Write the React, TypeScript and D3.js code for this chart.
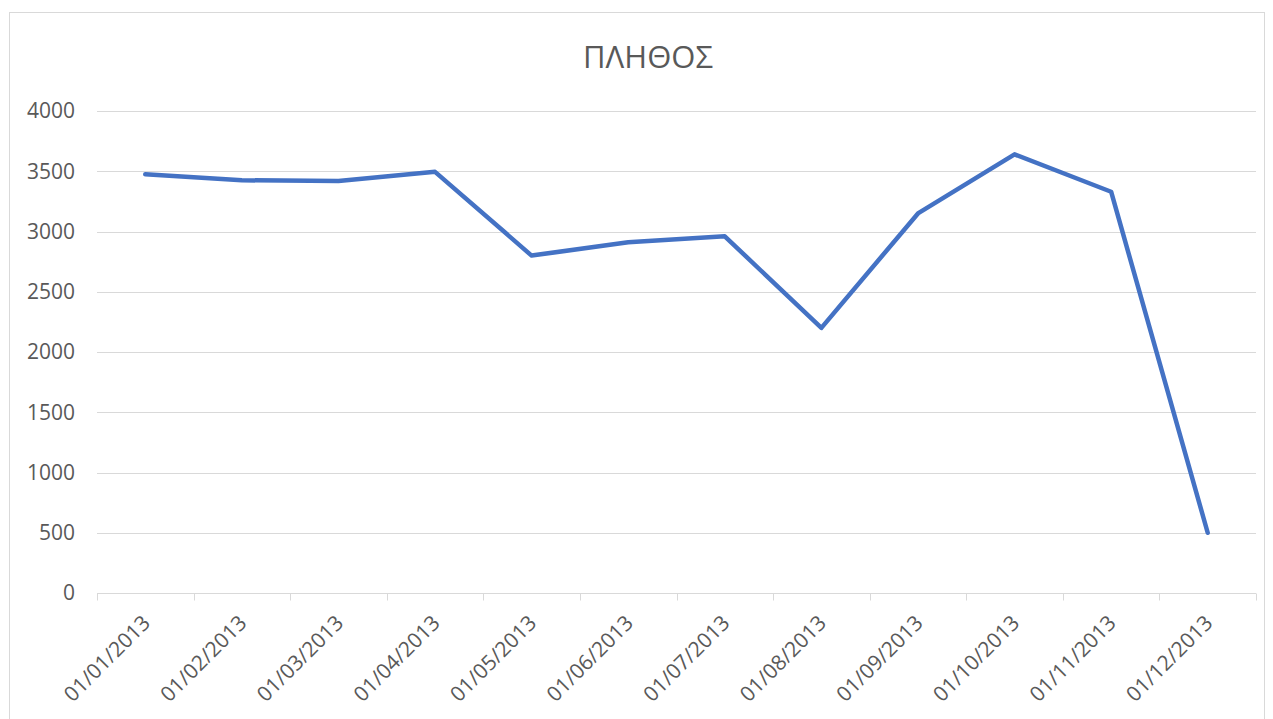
import React, { useEffect, useRef } from 'react';
import * as d3 from 'd3';

const months = ['01/01/2013', '01/02/2013', '01/03/2013', '01/04/2013', '01/05/2013', '01/06/2013',
  '01/07/2013', '01/08/2013', '01/09/2013', '01/10/2013', '01/11/2013', '01/12/2013'];
const counts = [3475, 3425, 3420, 3495, 2800, 2910, 2960, 2200, 3150, 3640, 3330, 500];
const yTicks = [0, 500, 1000, 1500, 2000, 2500, 3000, 3500, 4000];
const title = 'ΠΛΗΘΟΣ';

const W = 1273, H = 719;

export default function App() {
  const ref = useRef<SVGSVGElement>(null);

  useEffect(() => {
    const svg = d3.select(ref.current);
    svg.selectAll('*').remove();

    const margin = { top: 111, right: 17, bottom: 126, left: 97 };
    const font = '"Open Sans", "Noto Sans", sans-serif';
    const textCol = '#595959';

    // chart frame
    svg.append('rect').attr('x', 9.5).attr('y', 12.5).attr('width', W - 18).attr('height', H)
      .attr('fill', 'white').attr('stroke', '#d9d9d9');

    const x = d3.scaleBand().domain(months).range([margin.left, W - margin.right]);
    const y = d3.scaleLinear().domain([0, 4000]).range([H - margin.bottom, margin.top]);

    // gridlines
    svg.append('g').selectAll('line').data(yTicks.filter(d => d > 0)).join('line')
      .attr('x1', margin.left).attr('x2', W - margin.right)
      .attr('y1', d => Math.round(y(d)) + 0.5).attr('y2', d => Math.round(y(d)) + 0.5)
      .attr('stroke', '#d9d9d9').attr('stroke-width', 1);

    // y labels
    svg.append('g').selectAll('text').data(yTicks).join('text')
      .attr('x', 75).attr('y', d => y(d)).attr('dy', '0.35em')
      .attr('text-anchor', 'end').attr('fill', textCol)
      .style('font', `21px ${font}`).text(d => d);

    // x axis
    const xAxis = svg.append('g').attr('transform', `translate(0,${Math.round(y(0)) + 0.5})`)
      .call(d3.axisBottom(x).tickSize(0).tickFormat(() => ''));
    xAxis.select('.domain').attr('stroke', '#d9d9d9').attr('d', `M${margin.left},0H${W - margin.right}`);
    const edges = months.map(m => x(m) as number).concat([W - margin.right]);
    xAxis.append('g').selectAll('line').data(edges).join('line')
      .attr('x1', d => Math.round(d) + 0.5).attr('x2', d => Math.round(d) + 0.5)
      .attr('y1', 0).attr('y2', 7).attr('stroke', '#d9d9d9');

    svg.append('g').selectAll('text').data(months).join('text')
      .attr('transform', d => `translate(${(x(d) as number) + x.bandwidth() / 2 + 1},${y(0) + 26}) rotate(-45)`)
      .attr('text-anchor', 'end').attr('dy', '0.35em').attr('fill', textCol)
      .style('font', `21px ${font}`).text(d => d);

    // line
    const line = d3.line<number>()
      .x((_, i) => (x(months[i]) as number) + x.bandwidth() / 2)
      .y(d => y(d));
    svg.append('path').datum(counts).attr('d', line)
      .attr('fill', 'none').attr('stroke', '#4472C4').attr('stroke-width', 4.5)
      .attr('stroke-linejoin', 'round').attr('stroke-linecap', 'round');

    // title
    svg.append('text').attr('x', 648).attr('y', 68).attr('text-anchor', 'middle')
      .attr('fill', textCol).style('font', `31px ${font}`).text(title);
  }, []);

  return (
    <svg ref={ref} width={W} height={H}
      style={{ position: 'absolute', left: 0, top: 0, display: 'block', background: 'white' }} />
  );
}
